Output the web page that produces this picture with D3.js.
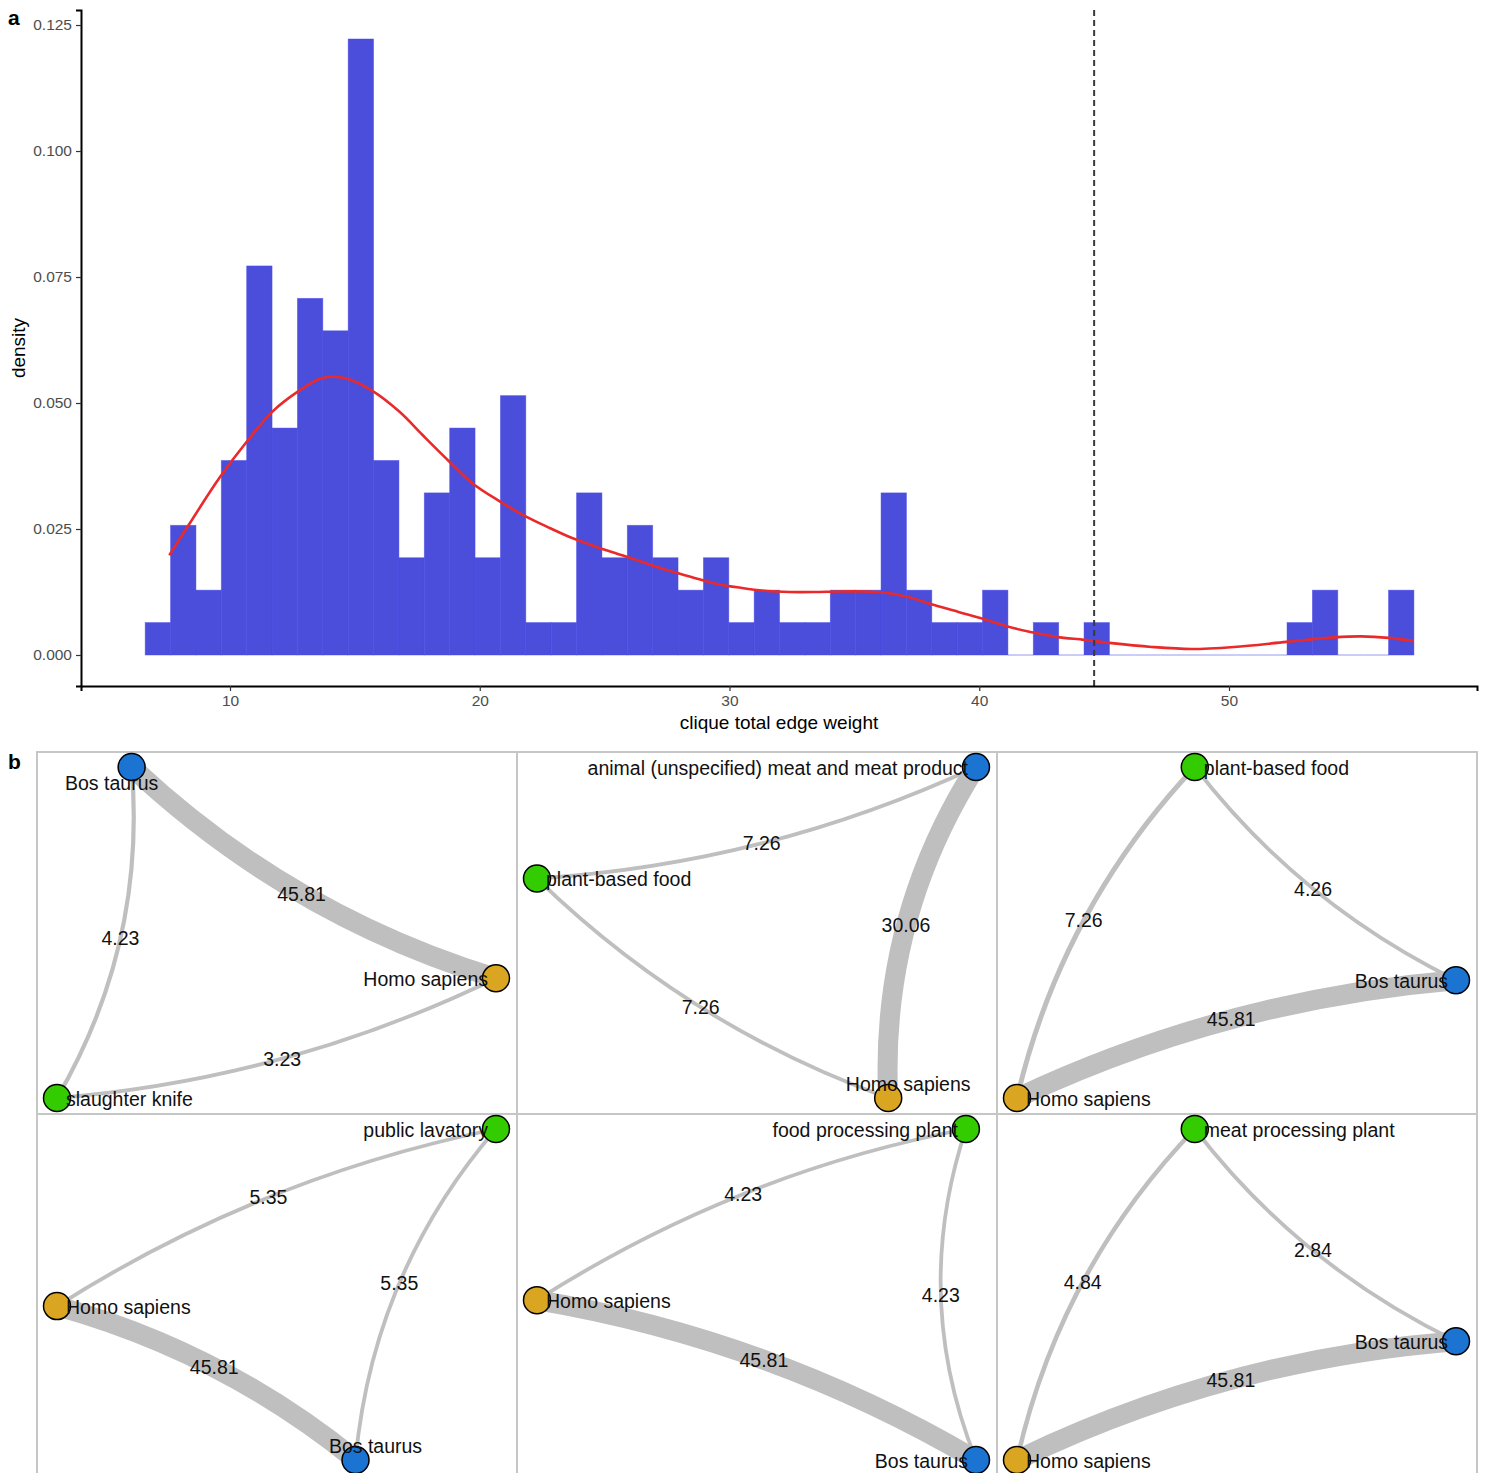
<!DOCTYPE html>
<html>
<head>
<meta charset="utf-8">
<script src="https://cdn.jsdelivr.net/npm/d3@7"></script>
<style>
  body { margin: 0; background: #fff; }
  svg text { font-family: "Liberation Sans", Arial, Helvetica, sans-serif; }
</style>
</head>
<body>
<svg id="chart"></svg>
<script>

// ---- panel a: histogram of clique total edge weight ----
var binStart = 6.604
var binWidth = 1.016
var binCounts = [1, 4, 2, 6, 12, 7, 11, 10, 19, 6, 3, 5, 7, 3, 8, 1, 1, 5, 3, 4,
  3, 2, 3, 1, 2, 1, 1, 2, 2, 5, 2, 1, 1, 2, 0, 1, 0, 1, 0, 0,
  0, 0, 0, 0, 0, 1, 2, 0, 0, 2]

// density curve
var densX = [7.57, 8.5, 9.6, 10.7, 11.7, 12.7, 13.6, 14.1, 14.7, 15.7, 16.8, 17.7, 18.8, 19.7, 20.8,
  21.8, 22.8, 23.7, 24.7, 25.7, 26.6, 27.6, 28.6, 29.5, 30.5, 31.5, 32.4, 33.4, 34.4, 35.3,
  36.3, 37.3, 38.2, 39.2, 40.2, 41.1, 42.1, 43.1, 44.2, 45.2, 46.9, 48.5, 50.2, 52.3, 54.2,
  55.3, 56.4, 57.37]
var densY = [0.0198, 0.0270, 0.0353, 0.0425, 0.0483, 0.0522, 0.0548, 0.0552, 0.0548, 0.0524,
  0.0482, 0.0437, 0.0383, 0.0341, 0.0305, 0.0276, 0.0252, 0.0232, 0.0214, 0.0198,
  0.0183, 0.0167, 0.0153, 0.0141, 0.0133, 0.0127, 0.0125, 0.0125, 0.0126, 0.0126,
  0.0123, 0.0113, 0.0099, 0.0085, 0.0071, 0.0057, 0.0045, 0.0036, 0.0030, 0.0024,
  0.0016, 0.0012, 0.0016, 0.0026, 0.0035, 0.0037, 0.0034, 0.0028]

var cutoff = 44.6
var xTicks = [10, 20, 30, 40, 50]
var yTicks = [0, 0.025, 0.05, 0.075, 0.1, 0.125]

// ---- panel b: example cliques ----
var cliqueNodes = [
  ["Bos taurus", "Homo sapiens", "slaughter knife"],
  ["animal (unspecified) meat and meat product", "plant-based food", "Homo sapiens"],
  ["plant-based food", "Bos taurus", "Homo sapiens"],
  ["public lavatory", "Homo sapiens", "Bos taurus"],
  ["food processing plant", "Homo sapiens", "Bos taurus"],
  ["meat processing plant", "Bos taurus", "Homo sapiens"]
]
var nodeType = [
  ["animal", "host", "other"],
  ["animal", "other", "host"],
  ["other", "animal", "host"],
  ["other", "host", "animal"],
  ["other", "host", "animal"],
  ["other", "animal", "host"]
]
// layout coordinates (0..1, y up)
var layoutX = [[0.17, 1, 0], [1, 0, 0.80], [0.405, 1, 0], [1, 0, 0.68], [0.977, 0, 1], [0.405, 1, 0]]
var layoutY = [[1, 0.362, 0], [1, 0.663, 0], [1, 0.356, 0], [1, 0.465, 0], [1, 0.483, 0], [1, 0.359, 0]]
var labelSide = [
  ["below", "left", "right"],
  ["left", "right", "above"],
  ["right", "left", "right"],
  ["left", "right", "above"],
  ["left", "right", "left"],
  ["right", "left", "right"]
]
var edgeFrom = [[0, 2, 2], [1, 1, 0], [0, 0, 1], [0, 0, 2], [0, 0, 2], [0, 0, 1]]
var edgeTo = [[1, 0, 1], [0, 2, 2], [1, 2, 2], [1, 2, 1], [1, 2, 1], [1, 2, 2]]
var edgeWeight = [
  [45.81, 4.23, 3.23],
  [7.26, 7.26, 30.06],
  [4.26, 7.26, 45.81],
  [5.35, 5.35, 45.81],
  [4.23, 4.23, 45.81],
  [2.84, 4.84, 45.81]
]
var edgeBend = [
  [0.058, 0.079, 0.047],
  [0.047, 0.054, 0.079],
  [0.058, 0.067, 0.045],
  [0.046, 0.080, 0.052],
  [0.048, 0.091, 0.046],
  [0.059, 0.070, 0.047]
]

var typeColor = { animal: "#1b74d2", host: "#daa520", other: "#33cc00" }

var screen = { width: 1489, height: 1473 }
var svg = d3.select("#chart")
  .attr("width", screen.width)
  .attr("height", screen.height)

// ===== histogram =====
var xScale = d3.scaleLinear().domain([4.034, 59.93]).range([81, 1477])
var yScale = d3.scaleLinear().domain([-0.00615, 0.12798]).range([686, 10])

var total = d3.sum(binCounts)
var bins = binCounts.map(function(c, i){
  return { x0: binStart + i * binWidth, x1: binStart + (i + 1) * binWidth, density: c / (total * binWidth) }
})

var histo = svg.append("g")

// empty bins still show their outline along the baseline
histo.selectAll("line.empty")
  .data(bins.filter(function(d){ return d.density == 0 }))
  .enter()
  .append("line")
  .attr("class", "empty")
  .attr("x1", function(d){ return xScale(d.x0) })
  .attr("x2", function(d){ return xScale(d.x1) })
  .attr("y1", yScale(0)).attr("y2", yScale(0))
  .attr("stroke", "#a9a9f5")
  .attr("stroke-width", 1.2)

histo.selectAll("rect")
  .data(bins.filter(function(d){ return d.density > 0 }))
  .enter()
  .append("rect")
  .attr("x", function(d){ return xScale(d.x0) })
  .attr("y", function(d){ return yScale(d.density) })
  .attr("width", function(d){ return xScale(d.x1) - xScale(d.x0) })
  .attr("height", function(d){ return yScale(0) - yScale(d.density) })
  .attr("fill", "#4b4edb")
  .attr("stroke", "rgba(70,70,235,0.55)")
  .attr("stroke-width", 0.8)

var line = d3.line()
  .x(function(d){ return xScale(d[0]) })
  .y(function(d){ return yScale(d[1]) })
  .curve(d3.curveCatmullRom)

histo.append("path")
  .datum(d3.zip(densX, densY))
  .attr("d", line)
  .attr("fill", "none")
  .attr("stroke", "#ea2a2a")
  .attr("stroke-width", 2.6)

histo.append("line")
  .attr("x1", xScale(cutoff)).attr("x2", xScale(cutoff))
  .attr("y1", 10).attr("y2", 686)
  .attr("stroke", "#3a3a3a")
  .attr("stroke-width", 2)
  .attr("stroke-dasharray", "6,4")

var xAxis = d3.axisBottom(xScale).tickValues(xTicks).tickSize(5).tickPadding(4)
var xg = svg.append("g")
  .attr("transform", "translate(0,686)")
  .call(xAxis)
var yAxis = d3.axisLeft(yScale).tickValues(yTicks).tickSize(5).tickPadding(4).tickFormat(d3.format(".3f"))
var yg = svg.append("g")
  .attr("transform", "translate(81,0)")
  .call(yAxis)

;[xg, yg].forEach(function(g){
  g.select(".domain").attr("stroke", "#000").attr("stroke-width", 2)
  g.selectAll(".tick line").attr("stroke", "#333").attr("stroke-width", 1.2)
  g.selectAll(".tick text")
    .attr("fill", "#4d4d4d")
    .style("font-size", "15.5px")
    .style("font-family", "'Liberation Sans', Arial, sans-serif")
})

svg.append("text")
  .attr("x", 779).attr("y", 729)
  .attr("text-anchor", "middle")
  .style("font-size", "19px")
  .text("clique total edge weight")

svg.append("text")
  .attr("transform", "translate(25,348) rotate(-90)")
  .attr("text-anchor", "middle")
  .style("font-size", "19px")
  .text("density")

svg.append("text")
  .attr("x", 8).attr("y", 25)
  .style("font-size", "21px").style("font-weight", "bold")
  .text("a")
svg.append("text")
  .attr("x", 8).attr("y", 769)
  .style("font-size", "21px").style("font-weight", "bold")
  .text("b")

// ===== network panels =====
var colScale = d3.scaleBand().domain([0, 1, 2]).range([37, 1477])
var rowScale = d3.scaleBand().domain([0, 1]).range([752, 1476])

cliqueNodes.forEach(function(names, p){
  var x0 = colScale(p % 3)
  var y0 = rowScale(Math.floor(p / 3))
  var bw = colScale.bandwidth()
  var bh = rowScale.bandwidth()

  var g = svg.append("g")

  g.append("rect")
    .attr("x", x0).attr("y", y0)
    .attr("width", bw).attr("height", bh)
    .attr("fill", "none")
    .attr("stroke", "#c6c6c6")
    .attr("stroke-width", 2)

  var px = d3.scaleLinear().domain([0, 1]).range([x0 + 20, x0 + bw - 21])
  var py = d3.scaleLinear().domain([0, 1]).range([y0 + bh - 16, y0 + 15])
  var wScale = d3.scaleLinear().domain(d3.extent(edgeWeight[p])).range([3.8, 20])

  var nodes = names.map(function(n, i){
    return { name: n, type: nodeType[p][i], side: labelSide[p][i], x: px(layoutX[p][i]), y: py(layoutY[p][i]) }
  })

  var edges = edgeWeight[p].map(function(w, k){
    var a = nodes[edgeFrom[p][k]], b = nodes[edgeTo[p][k]]
    var dx = b.x - a.x, dy = b.y - a.y
    var len = Math.sqrt(dx * dx + dy * dy)
    var nx = -dy / len, ny = dx / len
    var mx = (a.x + b.x) / 2, my = (a.y + b.y) / 2
    var off = edgeBend[p][k] * len
    return {
      w: w, a: a, b: b,
      cx: mx + 2 * off * nx, cy: my + 2 * off * ny,
      lx: mx + off * nx, ly: my + off * ny
    }
  })

  g.selectAll("path.edge")
    .data(edges)
    .enter()
    .append("path")
    .attr("class", "edge")
    .attr("d", function(d){
      return "M" + d.a.x + "," + d.a.y + " Q" + d.cx + "," + d.cy + " " + d.b.x + "," + d.b.y
    })
    .attr("fill", "none")
    .attr("stroke", "#bfbfbf")
    .attr("stroke-width", function(d){ return wScale(d.w) })

  g.selectAll("text.elab")
    .data(edges)
    .enter()
    .append("text")
    .attr("class", "elab")
    .attr("x", function(d){ return d.lx })
    .attr("y", function(d){ return d.ly })
    .attr("dy", "0.35em")
    .attr("text-anchor", "middle")
    .attr("fill", "#111")
    .style("font-size", "19.5px")
    .text(function(d){ return d3.format(".2f")(d.w) })

  g.selectAll("circle")
    .data(nodes)
    .enter()
    .append("circle")
    .attr("cx", function(d){ return d.x })
    .attr("cy", function(d){ return d.y })
    .attr("r", 13.5)
    .attr("fill", function(d){ return typeColor[d.type] })
    .attr("stroke", "#000")
    .attr("stroke-width", 1.5)

  g.selectAll("text.nlab")
    .data(nodes)
    .enter()
    .append("text")
    .attr("class", "nlab")
    .attr("x", function(d){
      if (d.side == "left") return d.x - 8
      if (d.side == "right") return d.x + 9
      if (d.side == "below") return d.x - 20
      return d.x + 20
    })
    .attr("y", function(d){
      if (d.side == "below") return d.y + 16
      if (d.side == "above") return d.y - 14
      return d.y + 1
    })
    .attr("dy", "0.35em")
    .attr("text-anchor", function(d){
      if (d.side == "left") return "end"
      if (d.side == "right") return "start"
      return "middle"
    })
    .attr("fill", "#111")
    .style("font-size", "19.5px")
    .text(function(d){ return d.name })
})

</script>
</body>
</html>
